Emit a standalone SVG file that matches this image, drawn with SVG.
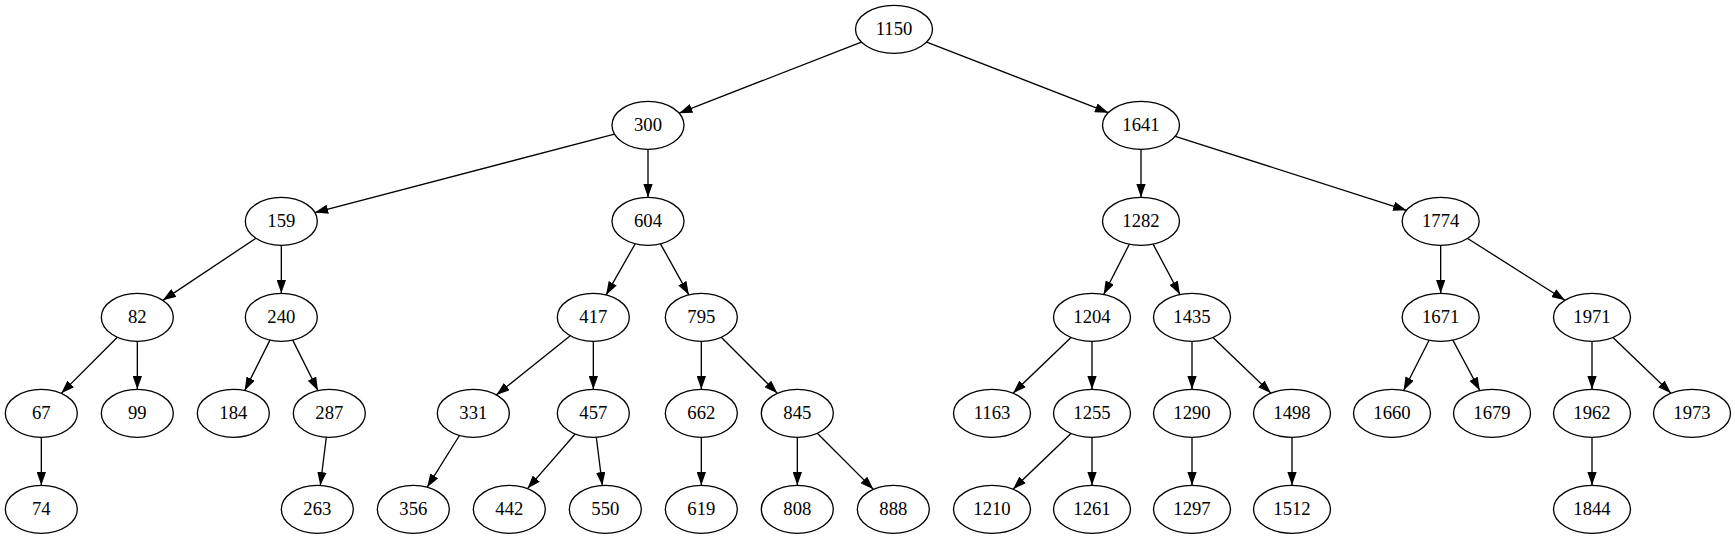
<svg xmlns="http://www.w3.org/2000/svg" width="1735" height="539" viewBox="0 0 1735 539">
<style>
.n ellipse{fill:#fff;stroke:#000;stroke-width:1.33}
.n text{font-family:"Liberation Serif","Times New Roman",serif;font-size:18.67px;text-anchor:middle;fill:#000}
#edges line{stroke:#000;stroke-width:1.33;fill:none;marker-end:url(#arr)}
</style>
<defs>
<marker id="arr" markerUnits="userSpaceOnUse" viewBox="0 0 13.33 9.33" refX="13.33" refY="4.67" markerWidth="13.33" markerHeight="9.33" orient="auto">
<path d="M0,0 L13.33,4.67 L0,9.33 Z" fill="#000"/>
</marker>
</defs>
<rect width="1735" height="539" fill="#fff"/>
<g id="edges">
<line x1="861.37" y1="42.06" x2="679.07" y2="113.21"/>
<line x1="926.67" y1="42.03" x2="1108.33" y2="112.63"/>
<line x1="614.49" y1="134.10" x2="314.84" y2="212.56"/>
<line x1="648" y1="149.33" x2="648" y2="197.33"/>
<line x1="1141" y1="149.33" x2="1141" y2="197.33"/>
<line x1="1175.24" y1="136.30" x2="1406.43" y2="210.36"/>
<line x1="255.87" y1="238.30" x2="162.79" y2="300.36"/>
<line x1="281.33" y1="245.33" x2="281.33" y2="293.33"/>
<line x1="635.22" y1="243.77" x2="606.11" y2="294.89"/>
<line x1="660.50" y1="243.84" x2="688.83" y2="294.82"/>
<line x1="1129.33" y1="244.20" x2="1103.67" y2="294.46"/>
<line x1="1153.10" y1="244.11" x2="1179.90" y2="294.55"/>
<line x1="1440.67" y1="245.33" x2="1440.67" y2="293.33"/>
<line x1="1467.66" y1="238.45" x2="1565.01" y2="300.21"/>
<line x1="117.36" y1="337.30" x2="61.30" y2="393.36"/>
<line x1="137.33" y1="341.33" x2="137.33" y2="389.33"/>
<line x1="269.95" y1="340.10" x2="244.71" y2="390.56"/>
<line x1="292.71" y1="340.10" x2="317.95" y2="390.56"/>
<line x1="570.28" y1="335.77" x2="496.38" y2="394.89"/>
<line x1="593.33" y1="341.33" x2="593.33" y2="389.33"/>
<line x1="701.33" y1="341.33" x2="701.33" y2="389.33"/>
<line x1="721.30" y1="337.30" x2="777.36" y2="393.36"/>
<line x1="1071.03" y1="337.46" x2="1012.97" y2="393.20"/>
<line x1="1092" y1="341.33" x2="1092" y2="389.33"/>
<line x1="1192" y1="341.33" x2="1192" y2="389.33"/>
<line x1="1212.97" y1="337.46" x2="1271.03" y2="393.20"/>
<line x1="1429.07" y1="340.21" x2="1403.60" y2="390.45"/>
<line x1="1452.84" y1="340.10" x2="1479.83" y2="390.56"/>
<line x1="1592" y1="341.33" x2="1592" y2="389.33"/>
<line x1="1612.97" y1="337.46" x2="1671.03" y2="393.20"/>
<line x1="41.33" y1="437.33" x2="41.33" y2="485.33"/>
<line x1="326.34" y1="437.25" x2="320.32" y2="485.41"/>
<line x1="459.48" y1="435.48" x2="427.18" y2="487.18"/>
<line x1="575.19" y1="434.06" x2="527.47" y2="488.60"/>
<line x1="596.32" y1="437.25" x2="602.34" y2="485.41"/>
<line x1="701.33" y1="437.33" x2="701.33" y2="485.33"/>
<line x1="797.33" y1="437.33" x2="797.33" y2="485.33"/>
<line x1="817.30" y1="433.30" x2="873.36" y2="489.36"/>
<line x1="1071.03" y1="433.46" x2="1012.97" y2="489.20"/>
<line x1="1092" y1="437.33" x2="1092" y2="485.33"/>
<line x1="1192" y1="437.33" x2="1192" y2="485.33"/>
<line x1="1292" y1="437.33" x2="1292" y2="485.33"/>
<line x1="1592" y1="437.33" x2="1592" y2="485.33"/>
</g>
<g id="node-1150" class="n"><ellipse cx="894" cy="29.33" rx="38.5" ry="24"/><text x="894" y="34.93">1150</text></g>
<g id="node-300" class="n"><ellipse cx="648" cy="125.33" rx="36" ry="24"/><text x="648" y="130.93">300</text></g>
<g id="node-1641" class="n"><ellipse cx="1141" cy="125.33" rx="38.5" ry="24"/><text x="1141" y="130.93">1641</text></g>
<g id="node-159" class="n"><ellipse cx="281.33" cy="221.33" rx="36" ry="24"/><text x="281.33" y="226.93">159</text></g>
<g id="node-604" class="n"><ellipse cx="648" cy="221.33" rx="36" ry="24"/><text x="648" y="226.93">604</text></g>
<g id="node-1282" class="n"><ellipse cx="1141" cy="221.33" rx="38.5" ry="24"/><text x="1141" y="226.93">1282</text></g>
<g id="node-1774" class="n"><ellipse cx="1440.67" cy="221.33" rx="38.5" ry="24"/><text x="1440.67" y="226.93">1774</text></g>
<g id="node-82" class="n"><ellipse cx="137.33" cy="317.33" rx="36" ry="24"/><text x="137.33" y="322.93">82</text></g>
<g id="node-240" class="n"><ellipse cx="281.33" cy="317.33" rx="36" ry="24"/><text x="281.33" y="322.93">240</text></g>
<g id="node-417" class="n"><ellipse cx="593.33" cy="317.33" rx="36" ry="24"/><text x="593.33" y="322.93">417</text></g>
<g id="node-795" class="n"><ellipse cx="701.33" cy="317.33" rx="36" ry="24"/><text x="701.33" y="322.93">795</text></g>
<g id="node-1204" class="n"><ellipse cx="1092" cy="317.33" rx="38.5" ry="24"/><text x="1092" y="322.93">1204</text></g>
<g id="node-1435" class="n"><ellipse cx="1192" cy="317.33" rx="38.5" ry="24"/><text x="1192" y="322.93">1435</text></g>
<g id="node-1671" class="n"><ellipse cx="1440.67" cy="317.33" rx="38.5" ry="24"/><text x="1440.67" y="322.93">1671</text></g>
<g id="node-1971" class="n"><ellipse cx="1592" cy="317.33" rx="38.5" ry="24"/><text x="1592" y="322.93">1971</text></g>
<g id="node-67" class="n"><ellipse cx="41.33" cy="413.33" rx="36" ry="24"/><text x="41.33" y="418.93">67</text></g>
<g id="node-99" class="n"><ellipse cx="137.33" cy="413.33" rx="36" ry="24"/><text x="137.33" y="418.93">99</text></g>
<g id="node-184" class="n"><ellipse cx="233.33" cy="413.33" rx="36" ry="24"/><text x="233.33" y="418.93">184</text></g>
<g id="node-287" class="n"><ellipse cx="329.33" cy="413.33" rx="36" ry="24"/><text x="329.33" y="418.93">287</text></g>
<g id="node-331" class="n"><ellipse cx="473.33" cy="413.33" rx="36" ry="24"/><text x="473.33" y="418.93">331</text></g>
<g id="node-457" class="n"><ellipse cx="593.33" cy="413.33" rx="36" ry="24"/><text x="593.33" y="418.93">457</text></g>
<g id="node-662" class="n"><ellipse cx="701.33" cy="413.33" rx="36" ry="24"/><text x="701.33" y="418.93">662</text></g>
<g id="node-845" class="n"><ellipse cx="797.33" cy="413.33" rx="36" ry="24"/><text x="797.33" y="418.93">845</text></g>
<g id="node-1163" class="n"><ellipse cx="992" cy="413.33" rx="38.5" ry="24"/><text x="992" y="418.93">1163</text></g>
<g id="node-1255" class="n"><ellipse cx="1092" cy="413.33" rx="38.5" ry="24"/><text x="1092" y="418.93">1255</text></g>
<g id="node-1290" class="n"><ellipse cx="1192" cy="413.33" rx="38.5" ry="24"/><text x="1192" y="418.93">1290</text></g>
<g id="node-1498" class="n"><ellipse cx="1292" cy="413.33" rx="38.5" ry="24"/><text x="1292" y="418.93">1498</text></g>
<g id="node-1660" class="n"><ellipse cx="1392" cy="413.33" rx="38.5" ry="24"/><text x="1392" y="418.93">1660</text></g>
<g id="node-1679" class="n"><ellipse cx="1492" cy="413.33" rx="38.5" ry="24"/><text x="1492" y="418.93">1679</text></g>
<g id="node-1962" class="n"><ellipse cx="1592" cy="413.33" rx="38.5" ry="24"/><text x="1592" y="418.93">1962</text></g>
<g id="node-1973" class="n"><ellipse cx="1692" cy="413.33" rx="38.5" ry="24"/><text x="1692" y="418.93">1973</text></g>
<g id="node-74" class="n"><ellipse cx="41.33" cy="509.33" rx="36" ry="24"/><text x="41.33" y="514.93">74</text></g>
<g id="node-263" class="n"><ellipse cx="317.33" cy="509.33" rx="36" ry="24"/><text x="317.33" y="514.93">263</text></g>
<g id="node-356" class="n"><ellipse cx="413.33" cy="509.33" rx="36" ry="24"/><text x="413.33" y="514.93">356</text></g>
<g id="node-442" class="n"><ellipse cx="509.33" cy="509.33" rx="36" ry="24"/><text x="509.33" y="514.93">442</text></g>
<g id="node-550" class="n"><ellipse cx="605.33" cy="509.33" rx="36" ry="24"/><text x="605.33" y="514.93">550</text></g>
<g id="node-619" class="n"><ellipse cx="701.33" cy="509.33" rx="36" ry="24"/><text x="701.33" y="514.93">619</text></g>
<g id="node-808" class="n"><ellipse cx="797.33" cy="509.33" rx="36" ry="24"/><text x="797.33" y="514.93">808</text></g>
<g id="node-888" class="n"><ellipse cx="893.33" cy="509.33" rx="36" ry="24"/><text x="893.33" y="514.93">888</text></g>
<g id="node-1210" class="n"><ellipse cx="992" cy="509.33" rx="38.5" ry="24"/><text x="992" y="514.93">1210</text></g>
<g id="node-1261" class="n"><ellipse cx="1092" cy="509.33" rx="38.5" ry="24"/><text x="1092" y="514.93">1261</text></g>
<g id="node-1297" class="n"><ellipse cx="1192" cy="509.33" rx="38.5" ry="24"/><text x="1192" y="514.93">1297</text></g>
<g id="node-1512" class="n"><ellipse cx="1292" cy="509.33" rx="38.5" ry="24"/><text x="1292" y="514.93">1512</text></g>
<g id="node-1844" class="n"><ellipse cx="1592" cy="509.33" rx="38.5" ry="24"/><text x="1592" y="514.93">1844</text></g>
</svg>
